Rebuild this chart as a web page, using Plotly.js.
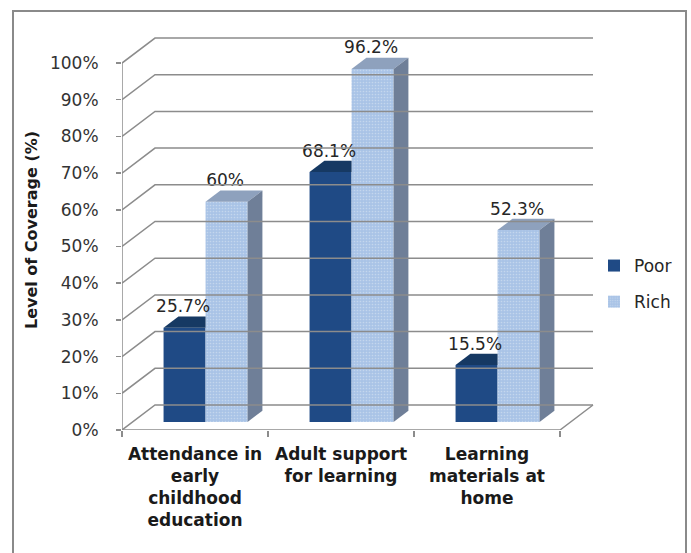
<!DOCTYPE html>
<html><head><meta charset="utf-8">
<script src="https://cdn.plot.ly/plotly-3.0.1.min.js"></script>
<style>html,body{margin:0;padding:0;background:#fff;}#chart{width:691px;height:553px;}</style>
</head><body><div id="chart"></div>
<script>
// ---- data ----
const categories = ['Attendance in<br>early<br>childhood<br>education', 'Adult support<br>for learning', 'Learning<br>materials at<br>home'];
const seriesNames = ['Poor', 'Rich'];
const poor = [25.7, 68.1, 15.5];
const rich = [60, 96.2, 52.3];
const yTicks = [0, 10, 20, 30, 40, 50, 60, 70, 80, 90, 100];

// ---- geometry / style (oblique 3D look) ----
const DX = 33 / 146;      // depth shift in category units
const DY = 25 / 3.67;     // depth shift in value units
const barW = 42 / 146;    // bar width
const d0 = 0.32;          // bar front depth
const dd = 0.45;          // bar depth
const FONT = 'DejaVu Sans';
const colors = {
  Poor: {front: '#1f4a85', top: '#163963', side: '#152f52'},
  Rich: {front: '#a9c3e6', top: '#8ea1bd', side: '#6f7f98'}
};

const idx = categories.map((c, i) => i);
const traces = [];

// back wall / side wall gridlines, floor, axis line
const gx = [], gy = [];
const xL = -0.5, xR = categories.length - 0.5;
yTicks.forEach(v => {
  gx.push(xL, xL + DX, xR + DX, null);
  gy.push(v, v + DY, v + DY, null);
});
gx.push(xL, xR, xR + DX, null); gy.push(0, 0, DY, null);     // floor front & right edges
gx.push(xL, xL, null); gy.push(0, yTicks[yTicks.length - 1], null); // value axis line
traces.push({type: 'scatter', mode: 'lines', x: gx, y: gy, xaxis: 'x2', yaxis: 'y',
  line: {color: '#8c8c8c', width: 1.5}, hoverinfo: 'skip', showlegend: false, cliponaxis: false});

const series = [poor, rich];
// top and side faces
series.forEach((vals, s) => {
  const name = seriesNames[s];
  idx.forEach(i => {
    const xl = i - barW + s * barW + d0 * DX;
    const xr = xl + barW;
    const b = d0 * DY;
    const t = b + vals[i];
    if (s === 0) {
      // top face clipped by neighbouring taller bar
      traces.push({type: 'scatter', mode: 'lines', fill: 'toself', fillcolor: colors[name].top,
        x: [xl, xr, xr, xl + dd * DX, xl], y: [t, t, t + dd * DY, t + dd * DY, t],
        line: {width: 0, color: colors[name].top}, hoverinfo: 'skip', showlegend: false});
    } else {
      traces.push({type: 'scatter', mode: 'lines', fill: 'toself', fillcolor: colors[name].top,
        x: [xl, xr, xr + dd * DX, xl + dd * DX, xl], y: [t, t, t + dd * DY, t + dd * DY, t],
        line: {width: 0, color: colors[name].top}, hoverinfo: 'skip', showlegend: false});
      traces.push({type: 'scatter', mode: 'lines', fill: 'toself', fillcolor: colors[name].side,
        x: [xr, xr, xr + dd * DX, xr + dd * DX, xr], y: [b, t, t + dd * DY, b + dd * DY, b],
        line: {width: 0, color: colors[name].side}, hoverinfo: 'skip', showlegend: false});
    }
  });
});

// front faces as bars
series.forEach((vals, s) => {
  const name = seriesNames[s];
  const tr = {type: 'bar', name: name, legendgroup: name,
    x: idx.map(i => i - barW / 2 + s * barW + d0 * DX),
    y: vals, base: idx.map(() => d0 * DY), width: barW,
    marker: {color: colors[name].front, line: {width: 0}}, hoverinfo: 'skip'};
  if (name === 'Rich') {
    tr.marker.pattern = {shape: '.', fgcolor: '#d6e2f2', bgcolor: colors[name].front, size: 3, solidity: 0.25, fgopacity: 0.6};
  }
  traces.push(tr);
});

// data labels
series.forEach((vals, s) => {
  traces.push({type: 'scatter', mode: 'text',
    x: idx.map(i => i - barW / 2 + s * barW + d0 * DX - 0.01),
    y: vals.map(v => v + d0 * DY + 5.4),
    text: vals.map(v => v + '%'), textposition: 'middle center',
    textfont: {family: FONT, size: 17, color: '#262626'},
    hoverinfo: 'skip', showlegend: false, cliponaxis: false});
});

const xRange = [-0.5, -0.5 + 478 / 146];
const layout = {
  width: 691, height: 553,
  margin: {l: 122, r: 91, t: 30, b: 123},
  paper_bgcolor: '#ffffff', plot_bgcolor: 'rgba(0,0,0,0)',
  barmode: 'overlay',
  font: {family: FONT, size: 16, color: '#222'},
  xaxis: {range: xRange, tickvals: idx, ticktext: categories.map(c => '<b>' + c.split('<br>').join('</b><br><b>') + '</b>'),
    ticks: '', showgrid: false, zeroline: false, showline: false, ticklabelstandoff: 12,
    tickfont: {family: FONT, size: 17, color: '#1a1a1a'}, fixedrange: true},
  xaxis2: {range: xRange, overlaying: 'x', anchor: 'y', side: 'bottom',
    tickvals: categories.map((c, i) => i - 0.5).concat([categories.length - 0.5]),
    ticks: 'outside', ticklen: 6, tickwidth: 1.5, tickcolor: '#8c8c8c',
    showticklabels: false, showgrid: false, zeroline: false, showline: false},
  yaxis: {range: [0, 109], tickvals: yTicks, ticktext: yTicks.map(v => v + '%'),
    ticks: 'outside', ticklen: 5, tickwidth: 1.5, tickcolor: '#8c8c8c', ticklabelstandoff: 14,
    showgrid: false, zeroline: false, showline: false,
    tickfont: {family: FONT, size: 17, color: '#333333'},
    title: {text: '<b>Level of Coverage (%)</b>', font: {family: FONT, size: 16, color: '#1a1a1a'}, standoff: 8}},
  legend: {x: 1.0 - 6 / 478, xanchor: 'left', y: 0.455, yanchor: 'top', traceorder: 'grouped',
    tracegroupgap: 11, font: {family: FONT, size: 17, color: '#262626'}, bgcolor: 'rgba(0,0,0,0)', itemwidth: 30},
  shapes: [{type: 'rect', xref: 'paper', yref: 'paper', x0: (13 - 122) / 478, x1: (686 - 122) / 478,
    y0: (430 - 570) / 400, y1: (430 - 11) / 400, line: {color: '#8a8a8a', width: 2}, fillcolor: 'rgba(0,0,0,0)', layer: 'below'}]
};

Plotly.newPlot('chart', traces, layout, {staticPlot: true, displayModeBar: false});
</script></body></html>
